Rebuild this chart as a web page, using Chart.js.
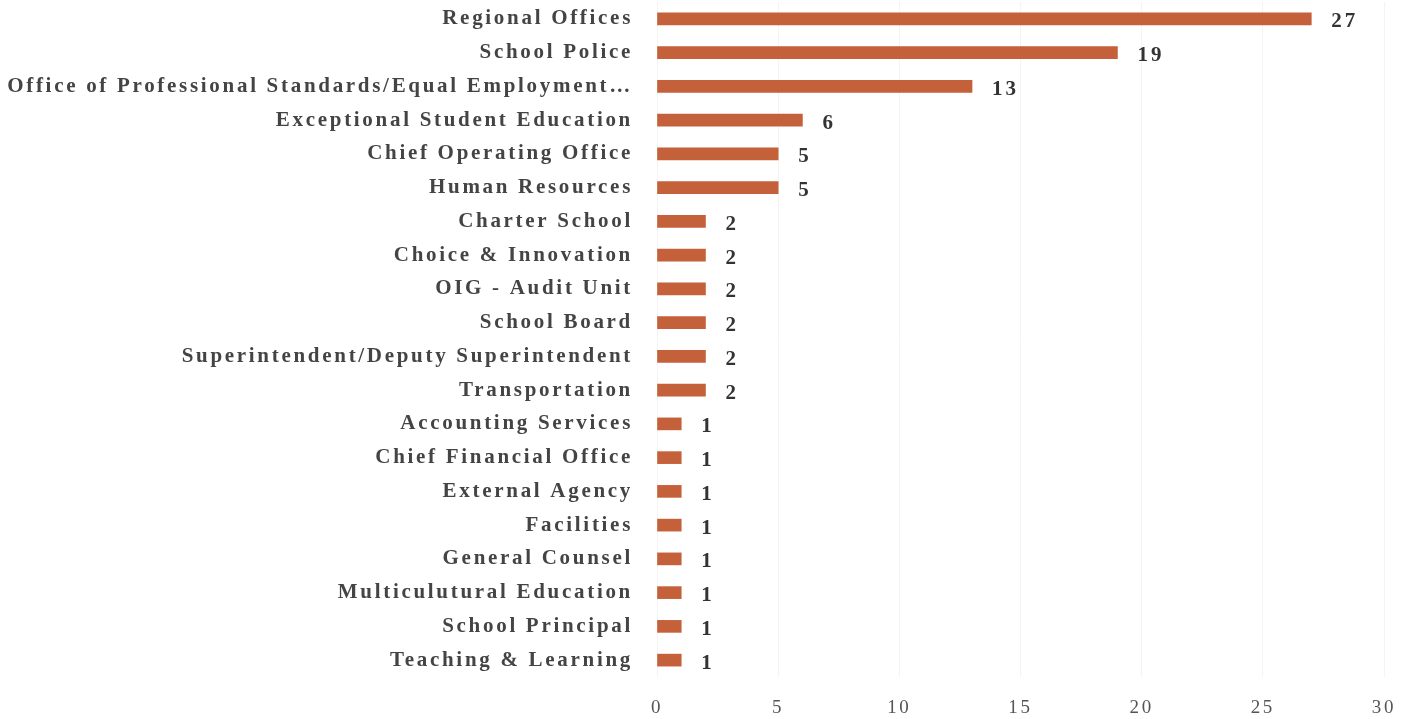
<!DOCTYPE html>
<html lang="en">
<head>
  <meta charset="UTF-8" />
  <title>Cases by Department</title>
  <script src="https://cdn.jsdelivr.net/npm/chart.js"></script>
  <style>
    html, body { margin: 0; padding: 0; background: #fff; }
    .wrap { width: 1414px; height: 719px; position: relative; }
  </style>
</head>
<body>
  <div class="wrap">
    <canvas id="grafico"></canvas>
  </div>

<script>
  const categorias = [
    "Regional Offices",
    "School Police",
    "Office of Professional Standards/Equal Employment…",
    "Exceptional Student Education",
    "Chief Operating Office",
    "Human Resources",
    "Charter School",
    "Choice & Innovation",
    "OIG - Audit Unit",
    "School Board",
    "Superintendent/Deputy Superintendent",
    "Transportation",
    "Accounting Services",
    "Chief Financial Office",
    "External Agency",
    "Facilities",
    "General Counsel",
    "Multiculutural Education",
    "School Principal",
    "Teaching & Learning"
  ];
  const valores = [27, 19, 13, 6, 5, 5, 2, 2, 2, 2, 2, 2, 1, 1, 1, 1, 1, 1, 1, 1];
  const ticksX = [0, 5, 10, 15, 20, 25, 30];

  const fonteSerif = "'Liberation Serif', 'DejaVu Serif', serif";

  // o texto do original é bem espaçado
  const espacamento = {
    id: "espacamento",
    beforeDraw(chart) {
      chart.ctx.letterSpacing = "2.7px";
    }
  };

  // rótulos de valor no fim de cada barra
  const rotulosBarras = {
    id: "rotulosBarras",
    afterDatasetsDraw(chart) {
      const ctx = chart.ctx;
      const meta = chart.getDatasetMeta(0);
      ctx.save();
      ctx.letterSpacing = "3px";
      ctx.font = "bold 21px " + fonteSerif;
      ctx.fillStyle = "#333";
      ctx.textAlign = "left";
      ctx.textBaseline = "middle";
      meta.data.forEach((bar, i) => {
        ctx.fillText(String(valores[i]), bar.x + 20, bar.y + 3);
      });
      ctx.restore();
    }
  };

  const ctx = document.getElementById("grafico").getContext("2d");
  new Chart(ctx, {
    type: "bar",
    data: {
      labels: categorias,
      datasets: [{
        data: valores,
        backgroundColor: "#c5613a",
        barThickness: 12,
        borderWidth: 0
      }]
    },
    options: {
      indexAxis: "y",
      responsive: true,
      maintainAspectRatio: false,
      animation: false,
      layout: { padding: { top: 2, right: 30, bottom: 0, left: 0 } },
      plugins: {
        legend: { display: false },
        tooltip: { enabled: false }
      },
      scales: {
        x: {
          min: 0,
          max: 30,
          afterBuildTicks: axis => { axis.ticks = ticksX.map(v => ({ value: v })); },
          grid: { color: "#f4f4f4", drawTicks: false },
          border: { display: false },
          ticks: {
            padding: 20,
            color: "#555",
            font: { family: fonteSerif, size: 19 }
          },
          afterFit: axis => { axis.height = 42; }
        },
        y: {
          grid: { display: false, drawTicks: false },
          border: { display: false },
          ticks: {
            padding: 24,
            autoSkip: false,
            color: "#444",
            font: { family: fonteSerif, size: 21, weight: "bold" }
          },
          afterFit: axis => {
            axis.width = 657;
            axis.paddingTop = 0;
            axis.paddingBottom = 0;
          }
        }
      }
    },
    plugins: [espacamento, rotulosBarras]
  });
</script>
</body>
</html>
